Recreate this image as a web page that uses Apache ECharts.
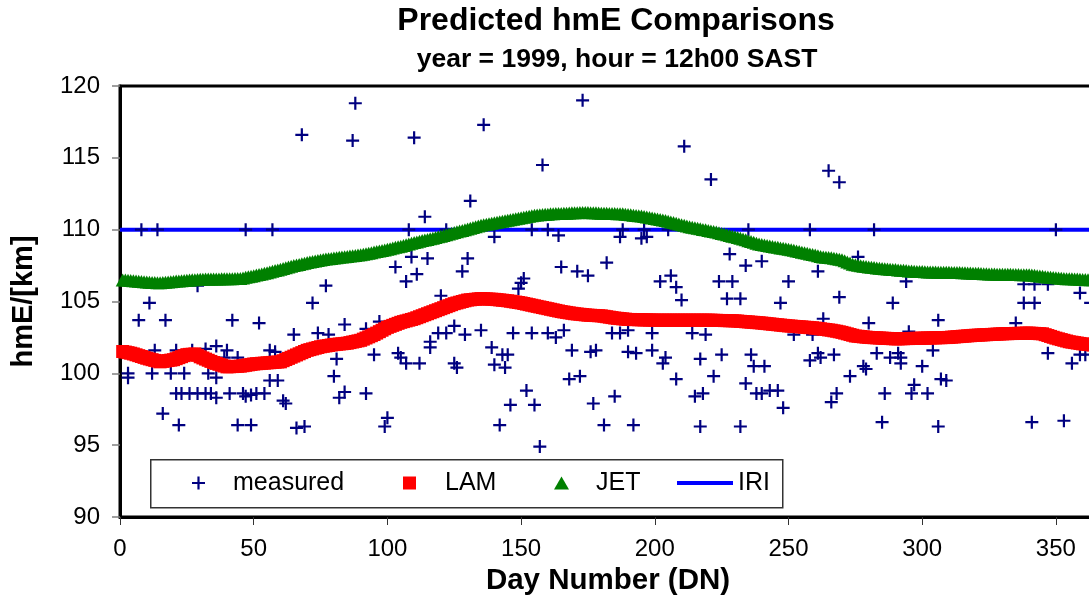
<!DOCTYPE html>
<html>
<head>
<meta charset="utf-8">
<title>Predicted hmE Comparisons</title>
<script src="https://cdn.jsdelivr.net/npm/echarts@6/dist/echarts.min.js"></script>
<style>
  html, body { margin: 0; padding: 0; background: #ffffff; overflow: hidden; }
  #chart { width: 1089px; height: 598px; }
</style>
</head>
<body>
<div id="chart"></div>
<script>
// Measured hmE (km) at 12h00 SAST, 1999, by day number
const measuredDays = [
  8, 14, 47, 57, 68, 88, 87, 11, 7, 17,
  3, 3, 12, 19, 24, 13, 21, 27, 32, 36,
  40, 44, 39, 56, 58, 36, 33, 21, 23, 26,
  29, 32, 34, 36, 41, 46, 49, 51, 54, 47,
  56, 59, 61, 62, 16, 22, 44, 49, 66, 69,
  77, 72, 65, 74, 78, 84, 42, 52, 80, 81,
  84, 82, 29,
  110, 136, 173, 158, 131, 114, 108, 122, 140, 154,
  160, 164, 109, 115, 103, 111, 130, 128, 165, 171,
  175,
  107, 149, 150, 151, 120, 92, 97, 95, 104, 105,
  107, 112, 116, 116, 119, 122, 125, 129, 135, 125,
  126, 139, 140, 143, 145, 144, 147, 154, 160, 163,
  166, 169, 176, 178, 168, 172, 152, 146, 155, 142,
  157, 100, 99, 92, 177,
  211, 221, 265, 269, 188, 187, 196, 195, 197, 205,
  235, 258, 182, 228, 234, 240, 261,
  202, 206, 208, 224, 229, 250, 210, 227, 232, 247,
  269, 263, 184, 187, 190, 199, 214, 219, 252, 259,
  190, 193, 199, 204, 203, 217, 225, 236, 237, 241,
  258, 261, 262, 267, 208, 222, 234, 238, 240, 243,
  246, 248, 215, 218, 185, 181, 192, 217, 232, 268,
  266,
  282, 350, 276, 294,
  289, 338, 342, 338, 342, 347, 359, 363, 280, 306,
  335, 295, 283, 288, 291, 292, 292, 304, 300, 278,
  279, 273, 297, 296, 302, 307, 309, 286, 285, 306,
  341, 353, 347, 356, 359, 361
];
const measuredValues = [
  110.0, 110.0, 110.0, 110.0, 116.6, 118.8, 116.2, 104.9, 103.7, 103.7,
  100.0, 99.7, 100.0, 100.0, 100.0, 101.6, 101.6, 101.6, 101.7, 101.9,
  101.6, 101.1, 101.1, 101.6, 101.5, 99.7, 100.0, 98.6, 98.6, 98.6,
  98.6, 98.6, 98.6, 98.3, 98.6, 98.6, 98.5, 98.6, 98.6, 98.4,
  99.5, 99.5, 98.1, 97.9, 97.2, 96.4, 96.4, 96.4, 96.2, 96.3,
  106.1, 104.9, 102.7, 102.8, 102.7, 103.4, 103.7, 103.5, 99.8, 101.0,
  98.7, 98.3, 106.1,
  116.4, 117.3, 119.0, 114.5, 112.0, 110.9, 110.0, 110.0, 109.5, 110.0,
  110.0, 109.6, 108.1, 108.0, 107.4, 106.9, 108.0, 107.1, 107.4, 107.1,
  106.8,
  106.4, 105.9, 106.3, 106.6, 105.4, 103.1, 103.6, 101.3, 101.4, 101.1,
  100.7, 100.7, 102.2, 101.8, 102.8, 102.8, 103.3, 102.7, 103.0, 100.7,
  100.4, 101.8, 100.6, 101.3, 101.3, 100.4, 102.8, 102.8, 102.8, 102.5,
  103.0, 101.6, 101.5, 101.6, 99.6, 99.8, 98.8, 97.8, 97.8, 96.4,
  94.9, 96.9, 96.3, 98.6, 97.9,
  115.8, 113.5, 114.1, 113.3, 110.0, 109.5, 110.0, 109.4, 109.5, 110.0,
  110.0, 110.0, 107.7, 108.3, 107.5, 107.8, 107.1,
  106.4, 106.8, 106.0, 106.4, 106.4, 106.4, 105.1, 105.2, 105.2, 104.9,
  105.3, 103.8, 102.8, 102.8, 103.0, 102.8, 102.8, 102.7, 102.7, 102.7,
  101.5, 101.4, 101.6, 101.1, 100.7, 101.0, 101.3, 101.3, 100.5, 100.5,
  100.9, 101.4, 101.1, 101.3, 99.6, 99.8, 99.3, 98.6, 98.6, 98.8,
  98.8, 97.6, 98.4, 98.6, 98.4, 96.4, 96.4, 96.3, 96.3, 98.6,
  98.0,
  110.0, 110.0, 108.1, 106.4,
  104.9, 104.9, 104.9, 106.2, 106.2, 106.2, 105.6, 104.9, 103.5, 103.7,
  103.5, 102.9, 101.4, 101.1, 101.4, 101.1, 100.7, 101.6, 100.5, 100.5,
  100.3, 99.8, 99.2, 98.6, 98.6, 99.6, 99.5, 98.6, 96.6, 96.3,
  96.6, 96.7, 101.4, 100.7, 101.3, 101.3
];

// LAM model prediction, days 1..365
const lamValues = [
  101.52, 101.48, 101.44, 101.40, 101.35, 101.29, 101.23, 101.17, 101.11, 101.05,
  101.00, 100.95, 100.90, 100.85, 100.80, 100.83, 100.86, 100.89, 100.92, 100.95,
  101.02, 101.09, 101.16, 101.23, 101.30, 101.32, 101.33, 101.35, 101.25, 101.15,
  101.07, 100.99, 100.91, 100.83, 100.75, 100.69, 100.63, 100.57, 100.51, 100.45,
  100.46, 100.47, 100.48, 100.49, 100.50, 100.53, 100.56, 100.59, 100.62, 100.65,
  100.67, 100.68, 100.70, 100.71, 100.73, 100.74, 100.76, 100.77, 100.79, 100.80,
  100.88, 100.96, 101.04, 101.12, 101.20, 101.28, 101.36, 101.44, 101.52, 101.60,
  101.65, 101.70, 101.75, 101.80, 101.85, 101.88, 101.91, 101.94, 101.97, 102.00,
  102.02, 102.04, 102.06, 102.08, 102.10, 102.14, 102.18, 102.22, 102.26, 102.30,
  102.38, 102.46, 102.54, 102.62, 102.70, 102.80, 102.90, 103.00, 103.10, 103.20,
  103.27, 103.34, 103.41, 103.48, 103.55, 103.60, 103.65, 103.70, 103.75, 103.80,
  103.87, 103.94, 104.01, 104.08, 104.15, 104.22, 104.29, 104.36, 104.43, 104.50,
  104.57, 104.64, 104.71, 104.78, 104.85, 104.90, 104.95, 105.00, 105.05, 105.10,
  105.12, 105.14, 105.16, 105.18, 105.20, 105.19, 105.18, 105.17, 105.16, 105.15,
  105.13, 105.11, 105.09, 105.07, 105.05, 105.02, 104.99, 104.96, 104.93, 104.90,
  104.86, 104.82, 104.78, 104.74, 104.70, 104.66, 104.62, 104.58, 104.54, 104.50,
  104.46, 104.42, 104.38, 104.34, 104.30, 104.27, 104.24, 104.21, 104.18, 104.15,
  104.13, 104.11, 104.09, 104.07, 104.05, 104.04, 104.03, 104.02, 104.01, 104.00,
  103.97, 103.94, 103.91, 103.88, 103.85, 103.83, 103.81, 103.79, 103.77, 103.75,
  103.75, 103.74, 103.74, 103.73, 103.73, 103.72, 103.72, 103.71, 103.71, 103.70,
  103.70, 103.70, 103.70, 103.70, 103.70, 103.70, 103.70, 103.70, 103.70, 103.70,
  103.70, 103.70, 103.70, 103.70, 103.70, 103.70, 103.70, 103.70, 103.70, 103.70,
  103.70, 103.69, 103.69, 103.68, 103.68, 103.67, 103.67, 103.66, 103.66, 103.65,
  103.64, 103.62, 103.61, 103.59, 103.58, 103.56, 103.55, 103.53, 103.52, 103.50,
  103.48, 103.46, 103.44, 103.42, 103.40, 103.38, 103.36, 103.34, 103.32, 103.30,
  103.29, 103.27, 103.26, 103.24, 103.23, 103.21, 103.20, 103.18, 103.17, 103.15,
  103.12, 103.10, 103.07, 103.05, 103.02, 103.00, 102.96, 102.93, 102.89, 102.85,
  102.80, 102.75, 102.70, 102.65, 102.60, 102.58, 102.56, 102.54, 102.52, 102.50,
  102.49, 102.48, 102.47, 102.46, 102.45, 102.44, 102.43, 102.42, 102.41, 102.40,
  102.40, 102.41, 102.41, 102.42, 102.42, 102.43, 102.43, 102.44, 102.44, 102.45,
  102.45, 102.46, 102.46, 102.47, 102.47, 102.48, 102.48, 102.49, 102.49, 102.50,
  102.52, 102.53, 102.55, 102.56, 102.58, 102.59, 102.61, 102.62, 102.64, 102.65,
  102.66, 102.67, 102.68, 102.69, 102.70, 102.71, 102.72, 102.73, 102.74, 102.75,
  102.76, 102.76, 102.77, 102.77, 102.78, 102.78, 102.79, 102.79, 102.80, 102.80,
  102.79, 102.78, 102.77, 102.76, 102.75, 102.69, 102.63, 102.57, 102.51, 102.45,
  102.40, 102.35, 102.30, 102.25, 102.20, 102.17, 102.14, 102.11, 102.08, 102.05,
  102.03, 102.01, 101.99, 101.97, 101.95
];

// JET model prediction, days 1..365
const jetValues = [
  106.50, 106.49, 106.48, 106.46, 106.45, 106.43, 106.41, 106.39, 106.37, 106.35,
  106.34, 106.33, 106.32, 106.31, 106.30, 106.32, 106.34, 106.36, 106.38, 106.40,
  106.42, 106.43, 106.45, 106.46, 106.48, 106.49, 106.51, 106.52, 106.54, 106.55,
  106.55, 106.56, 106.56, 106.56, 106.57, 106.57, 106.57, 106.58, 106.58, 106.58,
  106.59, 106.59, 106.60, 106.60, 106.60, 106.64, 106.68, 106.72, 106.76, 106.80,
  106.84, 106.88, 106.92, 106.96, 107.00, 107.05, 107.10, 107.15, 107.20, 107.25,
  107.30, 107.35, 107.40, 107.45, 107.50, 107.54, 107.58, 107.63, 107.67, 107.71,
  107.75, 107.78, 107.82, 107.85, 107.88, 107.92, 107.95, 107.98, 108.00, 108.03,
  108.05, 108.08, 108.10, 108.12, 108.14, 108.16, 108.18, 108.21, 108.23, 108.25,
  108.29, 108.33, 108.36, 108.40, 108.44, 108.48, 108.51, 108.55, 108.59, 108.64,
  108.68, 108.72, 108.77, 108.81, 108.85, 108.90, 108.95, 109.00, 109.05, 109.10,
  109.15, 109.19, 109.24, 109.28, 109.32, 109.36, 109.41, 109.45, 109.50, 109.55,
  109.60, 109.65, 109.70, 109.75, 109.80, 109.85, 109.90, 109.95, 110.00, 110.05,
  110.10, 110.15, 110.20, 110.25, 110.30, 110.35, 110.38, 110.42, 110.45, 110.48,
  110.52, 110.55, 110.59, 110.62, 110.66, 110.69, 110.73, 110.76, 110.80, 110.83,
  110.87, 110.90, 110.93, 110.97, 111.00, 111.02, 111.03, 111.05, 111.07, 111.08,
  111.10, 111.11, 111.12, 111.12, 111.13, 111.14, 111.15, 111.16, 111.17, 111.17,
  111.18, 111.19, 111.20, 111.19, 111.19, 111.18, 111.17, 111.17, 111.16, 111.15,
  111.14, 111.14, 111.13, 111.13, 111.12, 111.11, 111.11, 111.10, 111.08, 111.06,
  111.04, 111.01, 110.99, 110.97, 110.95, 110.92, 110.88, 110.85, 110.82, 110.78,
  110.75, 110.71, 110.67, 110.63, 110.58, 110.54, 110.50, 110.45, 110.40, 110.35,
  110.30, 110.25, 110.20, 110.16, 110.13, 110.09, 110.06, 110.02, 109.99, 109.95,
  109.91, 109.87, 109.83, 109.78, 109.74, 109.70, 109.65, 109.60, 109.55, 109.50,
  109.45, 109.40, 109.35, 109.29, 109.23, 109.18, 109.12, 109.06, 109.00, 108.97,
  108.93, 108.90, 108.87, 108.83, 108.80, 108.77, 108.73, 108.70, 108.67, 108.63,
  108.60, 108.56, 108.52, 108.48, 108.43, 108.39, 108.35, 108.31, 108.27, 108.23,
  108.18, 108.14, 108.10, 108.08, 108.07, 108.05, 108.01, 107.98, 107.94, 107.90,
  107.83, 107.75, 107.68, 107.60, 107.56, 107.53, 107.49, 107.45, 107.43, 107.41,
  107.39, 107.36, 107.34, 107.32, 107.30, 107.28, 107.27, 107.25, 107.23, 107.22,
  107.20, 107.18, 107.17, 107.15, 107.13, 107.12, 107.10, 107.09, 107.08, 107.08,
  107.07, 107.06, 107.05, 107.05, 107.05, 107.04, 107.04, 107.03, 107.03, 107.03,
  107.02, 107.02, 107.01, 107.01, 107.00, 107.00, 106.99, 106.98, 106.97, 106.97,
  106.96, 106.95, 106.94, 106.93, 106.92, 106.92, 106.91, 106.90, 106.90, 106.90,
  106.89, 106.89, 106.89, 106.88, 106.88, 106.88, 106.87, 106.87, 106.86, 106.86,
  106.85, 106.83, 106.80, 106.78, 106.75, 106.73, 106.70, 106.68, 106.67, 106.65,
  106.63, 106.62, 106.60, 106.59, 106.58, 106.58, 106.57, 106.56, 106.55, 106.54,
  106.53, 106.52, 106.52, 106.51, 106.50
];

// IRI reference height (constant)
const iriDays = [0, 365];
const iriValues = [110, 110];

// Axis ticks
const xTickInterval = 50;
const yTickInterval = 5;

const FONT = "'Liberation Sans', Arial, Helvetica, sans-serif";
const PLUS = 'path://M5.4,0h2.2v5.4h5.4v2.2h-5.4v5.4h-2.2v-5.4h-5.4v-2.2h5.4z';

const measuredData = measuredDays.map((d, i) => [d, measuredValues[i]]);
const lamData = lamValues.map((v, i) => [i + 1, v]);
const jetData = jetValues.map((v, i) => [i + 1, v]);
const iriData = iriDays.map((d, i) => [d, iriValues[i]]);

const legendText = { fontFamily: FONT, fontSize: 25, color: '#000', lineHeight: 26 };

const chart = echarts.init(document.getElementById('chart'), null, { renderer: 'canvas' });
chart.setOption({
  animation: false,
  backgroundColor: '#ffffff',
  title: [
    {
      text: 'Predicted hmE Comparisons',
      left: 616, top: 5, textAlign: 'center', padding: 0,
      textStyle: { fontFamily: FONT, fontWeight: 'bold', fontSize: 32, color: '#000' }
    },
    {
      text: 'year = 1999, hour = 12h00 SAST',
      left: 617, top: 46, textAlign: 'center', padding: 0,
      textStyle: { fontFamily: FONT, fontWeight: 'bold', fontSize: 26.5, color: '#000' }
    }
  ],
  grid: {
    left: 120, top: 86, right: -7, bottom: 81,
    containLabel: false, outerBoundsMode: 'none',
    show: true, borderColor: '#000', borderWidth: 3, backgroundColor: 'transparent'
  },
  xAxis: {
    type: 'value', min: 0, max: 365, interval: xTickInterval,
    name: 'Day Number (DN)', nameLocation: 'middle', nameGap: 43,
    nameTextStyle: { fontFamily: FONT, fontWeight: 'bold', fontSize: 29.5, color: '#000' },
    axisLine: { show: true, onZero: false, lineStyle: { color: '#000', width: 3 } },
    axisTick: { show: true, inside: false, length: 8, lineStyle: { color: '#333', width: 1 } },
    axisLabel: { show: true, margin: 20, showMaxLabel: false, fontFamily: FONT, fontSize: 24, color: '#000' },
    splitLine: { show: false }
  },
  yAxis: {
    type: 'value', min: 90, max: 120, interval: yTickInterval,
    name: 'hmE/[km]', nameLocation: 'middle', nameGap: 82,
    nameTextStyle: { fontFamily: FONT, fontWeight: 'bold', fontSize: 29, color: '#000' },
    axisLine: { show: true, onZero: false, lineStyle: { color: '#000', width: 3 } },
    axisTick: { show: true, inside: false, length: 8, lineStyle: { color: '#808080', width: 1.5 } },
    axisLabel: { show: true, margin: 20, fontFamily: FONT, fontSize: 24, color: '#000' },
    splitLine: { show: false }
  },
  legend: [
    {
      data: [{ name: 'measured', icon: PLUS }], selectedMode: false,
      left: 192, top: 470, padding: 0, itemWidth: 13, itemHeight: 13, z: 20,
      textStyle: Object.assign({ padding: [0, 0, 0, 23] }, legendText)
    },
    {
      data: [{ name: 'LAM', icon: 'rect' }], selectedMode: false,
      left: 403, top: 470, padding: 0, itemWidth: 13, itemHeight: 13, z: 20,
      textStyle: Object.assign({ padding: [0, 0, 0, 24] }, legendText)
    },
    {
      data: [{ name: 'JET', icon: 'triangle' }], selectedMode: false,
      left: 554, top: 470, padding: 0, itemWidth: 15, itemHeight: 13, z: 20,
      textStyle: Object.assign({ padding: [0, 0, 0, 22] }, legendText)
    },
    {
      data: [{ name: 'IRI', icon: 'rect' }], selectedMode: false,
      left: 677, top: 470, padding: 0, itemWidth: 56, itemHeight: 4, z: 20,
      textStyle: Object.assign({ padding: [0, 0, 0, 0] }, legendText)
    }
  ],
  graphic: [
    {
      type: 'rect', left: 150, top: 459, z: 15,
      shape: { width: 632, height: 48 },
      style: { fill: '#ffffff', stroke: '#333333', lineWidth: 1.5 }
    }
  ],
  series: [
    {
      name: 'measured', type: 'scatter', z: 3,
      symbol: PLUS, symbolSize: 13,
      itemStyle: { color: '#000080', opacity: 1 },
      data: measuredData
    },
    {
      name: 'LAM', type: 'scatter', z: 4,
      symbol: 'rect', symbolSize: 13,
      itemStyle: { color: '#ff0000', opacity: 1 },
      data: lamData
    },
    {
      name: 'JET', type: 'scatter', z: 5,
      symbol: 'triangle', symbolSize: [14, 13],
      itemStyle: { color: '#008000', opacity: 1 },
      data: jetData
    },
    {
      name: 'IRI', type: 'line', z: 2,
      color: '#0000ff',
      showSymbol: false, symbol: 'none',
      lineStyle: { color: '#0000ff', width: 4 },
      itemStyle: { color: '#0000ff' },
      data: iriData
    }
  ]
});
</script>
</body>
</html>
